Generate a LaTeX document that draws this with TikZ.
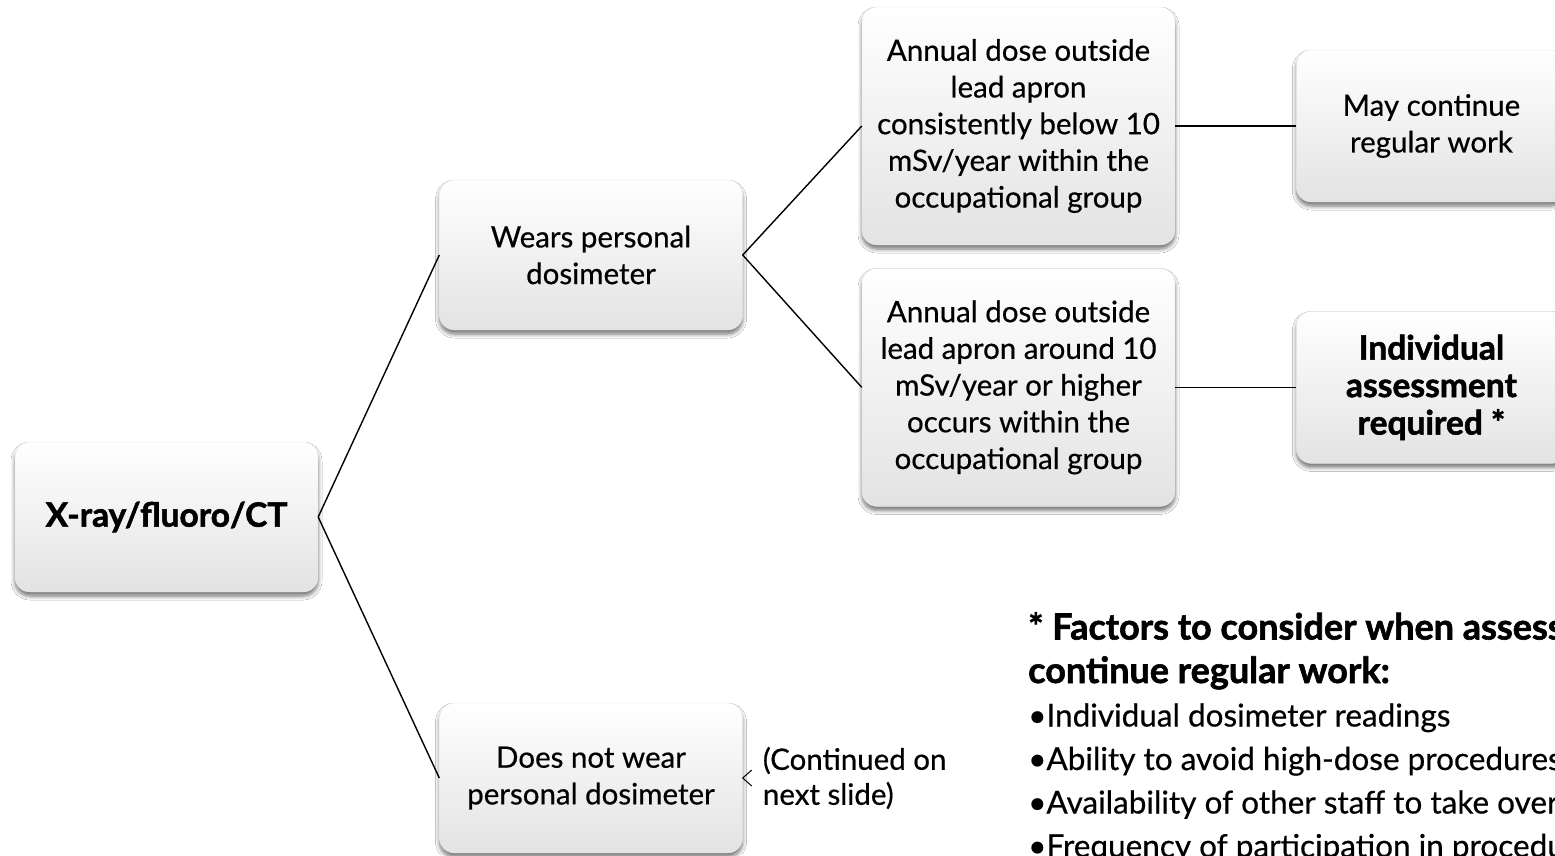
\documentclass[tikz,border=0pt]{standalone}
\usepackage{fontspec}
\setmainfont{Lato}[UprightFeatures={FakeBold=0.5}, BoldFeatures={FakeBold=1.6}]
\usetikzlibrary{positioning, shadows, shadows.blur}

\begin{document}
\begin{tikzpicture}[
        x=1pt, y=1pt,
        treenode/.style={rectangle, rounded corners=15pt, draw=black!10, top color=white, middle color=white, bottom color=black!11,
                blur shadow={shadow xshift=0pt, shadow yshift=-4pt, shadow blur steps=6, shadow blur radius=4pt, shadow opacity=55},
                text=black, align=center, inner sep=0pt, font=\fontsize{29.5}{36.7}\selectfont},
        boldtext/.style={font=\fontsize{33.5}{37.5}\selectfont\bfseries},
        smallbox/.style={treenode, minimum width=303pt, minimum height=150pt},
        dosebox/.style={treenode, minimum width=313pt, minimum height=238pt},
        resultbox/.style={treenode, minimum width=270pt, minimum height=152pt},
        branch/.style={draw=black, line width=1.4pt},
]
        \useasboundingbox (0,0) rectangle (1555,-855);
        \clip (0,0) rectangle (1555,-855);
        \fill[white] (0,0) rectangle (1555,-855);

        \node[smallbox, boldtext] (xray) at (166.5,-517) {X-ray/fluoro/CT};
        \node[smallbox] (wears) at (591,-255) {Wears personal\\dosimeter};
        \node[smallbox] (notwear) at (591,-778) {Does not wear\\personal dosimeter};
        \node[dosebox] (below10) at (1018.5,-126) {Annual dose outside\\lead apron\\consistently below 10\\mSv/year within the\\occupational group};
        \node[dosebox] (around10) [below=23pt of below10] {Annual dose outside\\lead apron around 10\\mSv/year or higher\\occurs within the\\occupational group};
        \node[resultbox] (regular) [right=121pt of below10] {May continue\\regular work};
        \node[resultbox, boldtext] (assess) [right=121pt of around10] {Individual\\assessment\\required *};
        \node[inner sep=0pt, align=left, font=\fontsize{29.5}{35}\selectfont] (cont) [right=20pt of notwear] {(Continued on\\next slide)};

        \node[anchor=north west, inner sep=0pt, align=left, font=\fontsize{31.5}{43.5}\selectfont] (factors) at (1028,-612)
            {{\bfseries\fontsize{36}{43.5}\selectfont * Factors to consider when assessing}\\
             {\bfseries\fontsize{36}{43.5}\selectfont continue regular work:}\\
             •Individual dosimeter readings\\
             •Ability to avoid high-dose procedures\\
             •Availability of other staff to take over\\
             •Frequency of participation in procedures};

        \coordinate (forkup) at ([shift={(9,8)}]notwear.east);
        \coordinate (forkdown) at ([shift={(9,-8)}]notwear.east);

        \draw[branch] (xray.east) -- (wears.west);
        \draw[branch] (xray.east) -- (notwear.west);
        \draw[branch] (wears.east) -- (below10.west);
        \draw[branch] (wears.east) -- (around10.west);
        \draw[branch] (below10.east) -- (regular.west);
        \draw[branch] (around10.east) -- (assess.west);
        \draw[line width=1pt] (forkup) -- (notwear.east) -- (forkdown);
\end{tikzpicture}
\end{document}
